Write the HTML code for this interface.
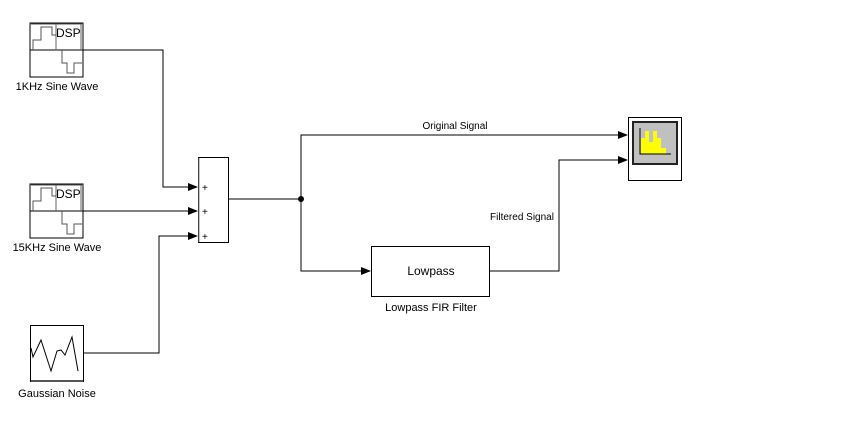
<!DOCTYPE html>
<html><head><meta charset="utf-8"><style>
html,body{margin:0;padding:0;background:#fff;}
svg text{font-family:"Liberation Sans",Arial,sans-serif;}
</style></head><body>
<svg width="861" height="419" viewBox="0 0 861 419" xmlns="http://www.w3.org/2000/svg">
<defs>
<marker id="a" markerWidth="10" markerHeight="8" refX="9" refY="4" orient="auto" markerUnits="userSpaceOnUse">
<path d="M0,0 L10,4 L0,8 z" fill="#000"/></marker>
<g id="sine">
<rect x="0" y="0" width="53" height="54" fill="#fff" stroke="#000" stroke-width="1"/>
<line x1="1" y1="1" x2="52" y2="1" stroke="#555"/>
<line x1="0" y1="27" x2="53" y2="27" stroke="#000"/>
<line x1="26" y1="1" x2="26" y2="27" stroke="#666"/>
<line x1="51" y1="1" x2="51" y2="27" stroke="#666"/>
<polyline points="3,27 3,17 11,17 11,4 22,4 22,12 26,12" fill="none" stroke="#555"/>
<polyline points="32,27 32,40 37,40 37,50 44,50 44,40 52,40" fill="none" stroke="#555"/>
<line x1="32" y1="27" x2="32" y2="40" stroke="#555"/>
<text x="26" y="14" font-size="12">DSP</text>
</g>
</defs>
<g stroke="#000" fill="none" stroke-width="1">
<!-- lines -->
<polyline points="83,50 163,50 163,187 197,187" marker-end="url(#a)"/>
<polyline points="83,211 197,211" marker-end="url(#a)"/>
<polyline points="83,353 159,353 159,236 197,236" marker-end="url(#a)"/>
<polyline points="229,199 301,199"/>
<polyline points="301,199 301,135 627,135" marker-end="url(#a)"/>
<polyline points="301,199 301,271 370,271" marker-end="url(#a)"/>
<polyline points="490,271 559,271 559,160 627,160" marker-end="url(#a)"/>
</g>
<circle cx="301" cy="199" r="3" fill="#000"/>
<use href="#sine" x="30" y="23"/>
<use href="#sine" x="30" y="184"/>
<text x="57" y="90" font-size="11" text-anchor="middle">1KHz Sine Wave</text>
<text x="57" y="251" font-size="11" text-anchor="middle">15KHz Sine Wave</text>
<!-- gaussian -->
<rect x="30.5" y="325.5" width="53" height="56" fill="#fff" stroke="#000"/>
<line x1="31" y1="381" x2="83" y2="381" stroke="#555" stroke-width="2"/>
<polyline points="31,348 33,357 41,340 51,371 57,351 61,350 65,355 72,337 78,371" fill="none" stroke="#000"/>
<text x="57" y="397" font-size="11" text-anchor="middle">Gaussian Noise</text>
<!-- sum -->
<rect x="198.5" y="157.5" width="30" height="85" fill="#fff" stroke="#000"/>
<line x1="199" y1="158" x2="199" y2="242" stroke="#888"/>
<text x="202" y="191" font-size="10">+</text>
<text x="202" y="215" font-size="10">+</text>
<text x="202" y="240" font-size="10">+</text>
<!-- lowpass -->
<rect x="371.5" y="246.5" width="118" height="50" fill="#fff" stroke="#000"/>
<text x="431" y="275" font-size="12" text-anchor="middle">Lowpass</text>
<text x="431" y="311" font-size="11" text-anchor="middle">Lowpass FIR Filter</text>
<!-- scope -->
<rect x="628.5" y="117.5" width="53" height="63" fill="#fff" stroke="#000"/>
<rect x="633" y="122" width="44" height="42" fill="#c0c0c0" stroke="#222" stroke-width="2"/>
<rect x="641" y="138" width="4" height="16" fill="#ff0"/>
<rect x="645" y="131" width="4" height="23" fill="#ff0"/>
<rect x="649" y="142" width="4" height="12" fill="#ff0"/>
<rect x="653" y="131" width="4" height="23" fill="#ff0"/>
<rect x="657" y="138" width="4" height="16" fill="#ff0"/>
<rect x="661" y="148" width="5" height="6" fill="#ff0"/>
<polyline points="640,128 640,154 671,154" fill="none" stroke="#000"/>
<text x="455" y="129" font-size="10" text-anchor="middle">Original Signal</text>
<text x="522" y="220" font-size="10" text-anchor="middle">Filtered Signal</text>
</svg>
</body></html>
